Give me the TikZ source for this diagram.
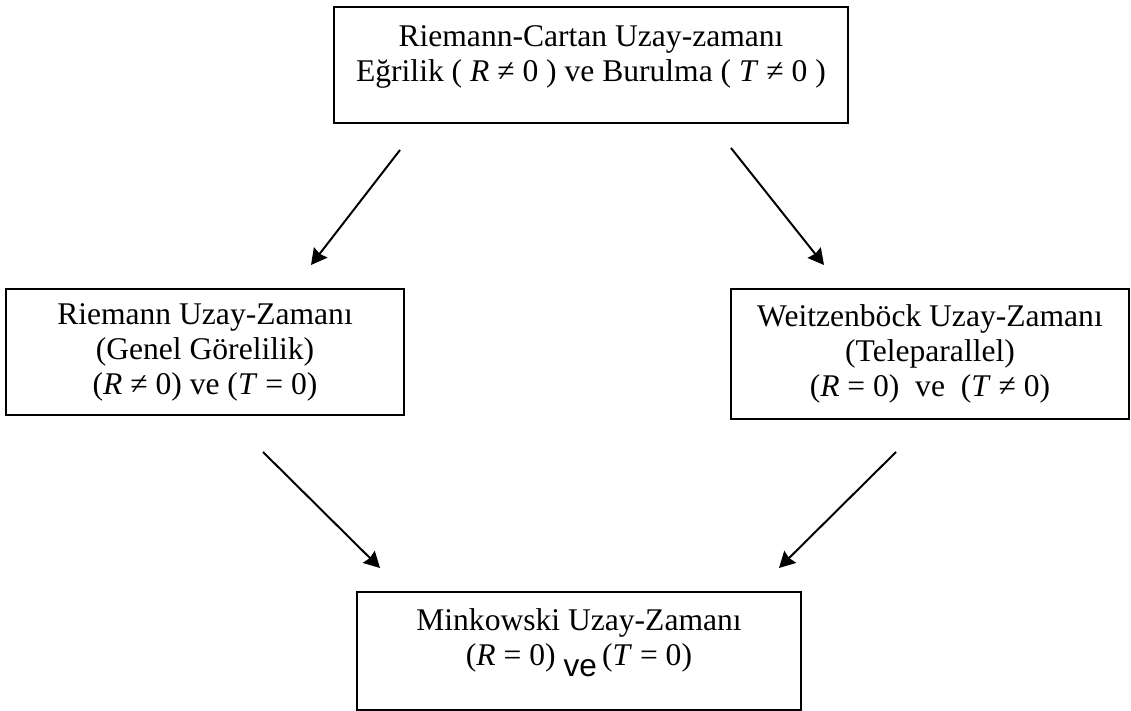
\documentclass[tikz,border=0pt]{standalone}
\usepackage{fontspec}
\setmainfont{Liberation Serif}
\newfontfamily\arialfont{Liberation Sans}
\usetikzlibrary{arrows.meta}

\tikzset{
  uzay/.style={draw, line width=0.75pt, align=center, inner sep=0pt,
    font=\fontsize{12}{13.3}\selectfont},
  ok/.style={->, line width=0.75pt},
}

\begin{document}
\begin{tikzpicture}[x=0.38pt, y=-0.38pt, >={Stealth[length=6pt, width=6.4pt, inset=0.6pt]}]
  \useasboundingbox (0,0) rectangle (1131,711);

  % kutular
  \node[uzay, minimum width=195.3pt, minimum height=44.1pt] (rc) at (591,65)
    {Riemann-Cartan Uzay-zamanı\\Eğrilik ( \textit{R} ≠ 0 ) ve Burulma ( \textit{T} ≠ 0 )\\[-4.7pt]\mbox{}};
  \node[uzay, minimum width=150.9pt, minimum height=47.9pt] (rm) at (205,352)
    {Riemann Uzay-Zamanı\\(Genel Görelilik)\\(\textit{R} ≠ 0) ve (\textit{T} = 0)};
  \node[uzay, minimum width=151.2pt, minimum height=49.4pt] (wz) at (930,354)
    {Weitzenböck Uzay-Zamanı\\(Teleparallel)\\(\textit{R} = 0)\ \ ve\ \ (\textit{T} ≠ 0)};
  \node[uzay, minimum width=168.7pt, minimum height=44.5pt] (mk) at (579,651)
    {Minkowski Uzay-Zamanı\\(\textit{R} = 0) {\arialfont\raisebox{-4.5pt}{ve}}\,(\textit{T} = 0)\\[-2.4pt]\mbox{}};

  % okların uçları
  \coordinate (rcL) at (400,150);
  \coordinate (rmT) at (311,265);
  \coordinate (rcR) at (731,148);
  \coordinate (wzT) at (824,265);
  \coordinate (rmB) at (263,452);
  \coordinate (mkL) at (380,568);
  \coordinate (wzB) at (896,452);
  \coordinate (mkR) at (779,568);

  \draw[ok] (rcL) -- (rmT);
  \draw[ok] (rcR) -- (wzT);
  \draw[ok] (rmB) -- (mkL);
  \draw[ok] (wzB) -- (mkR);
\end{tikzpicture}
\end{document}
